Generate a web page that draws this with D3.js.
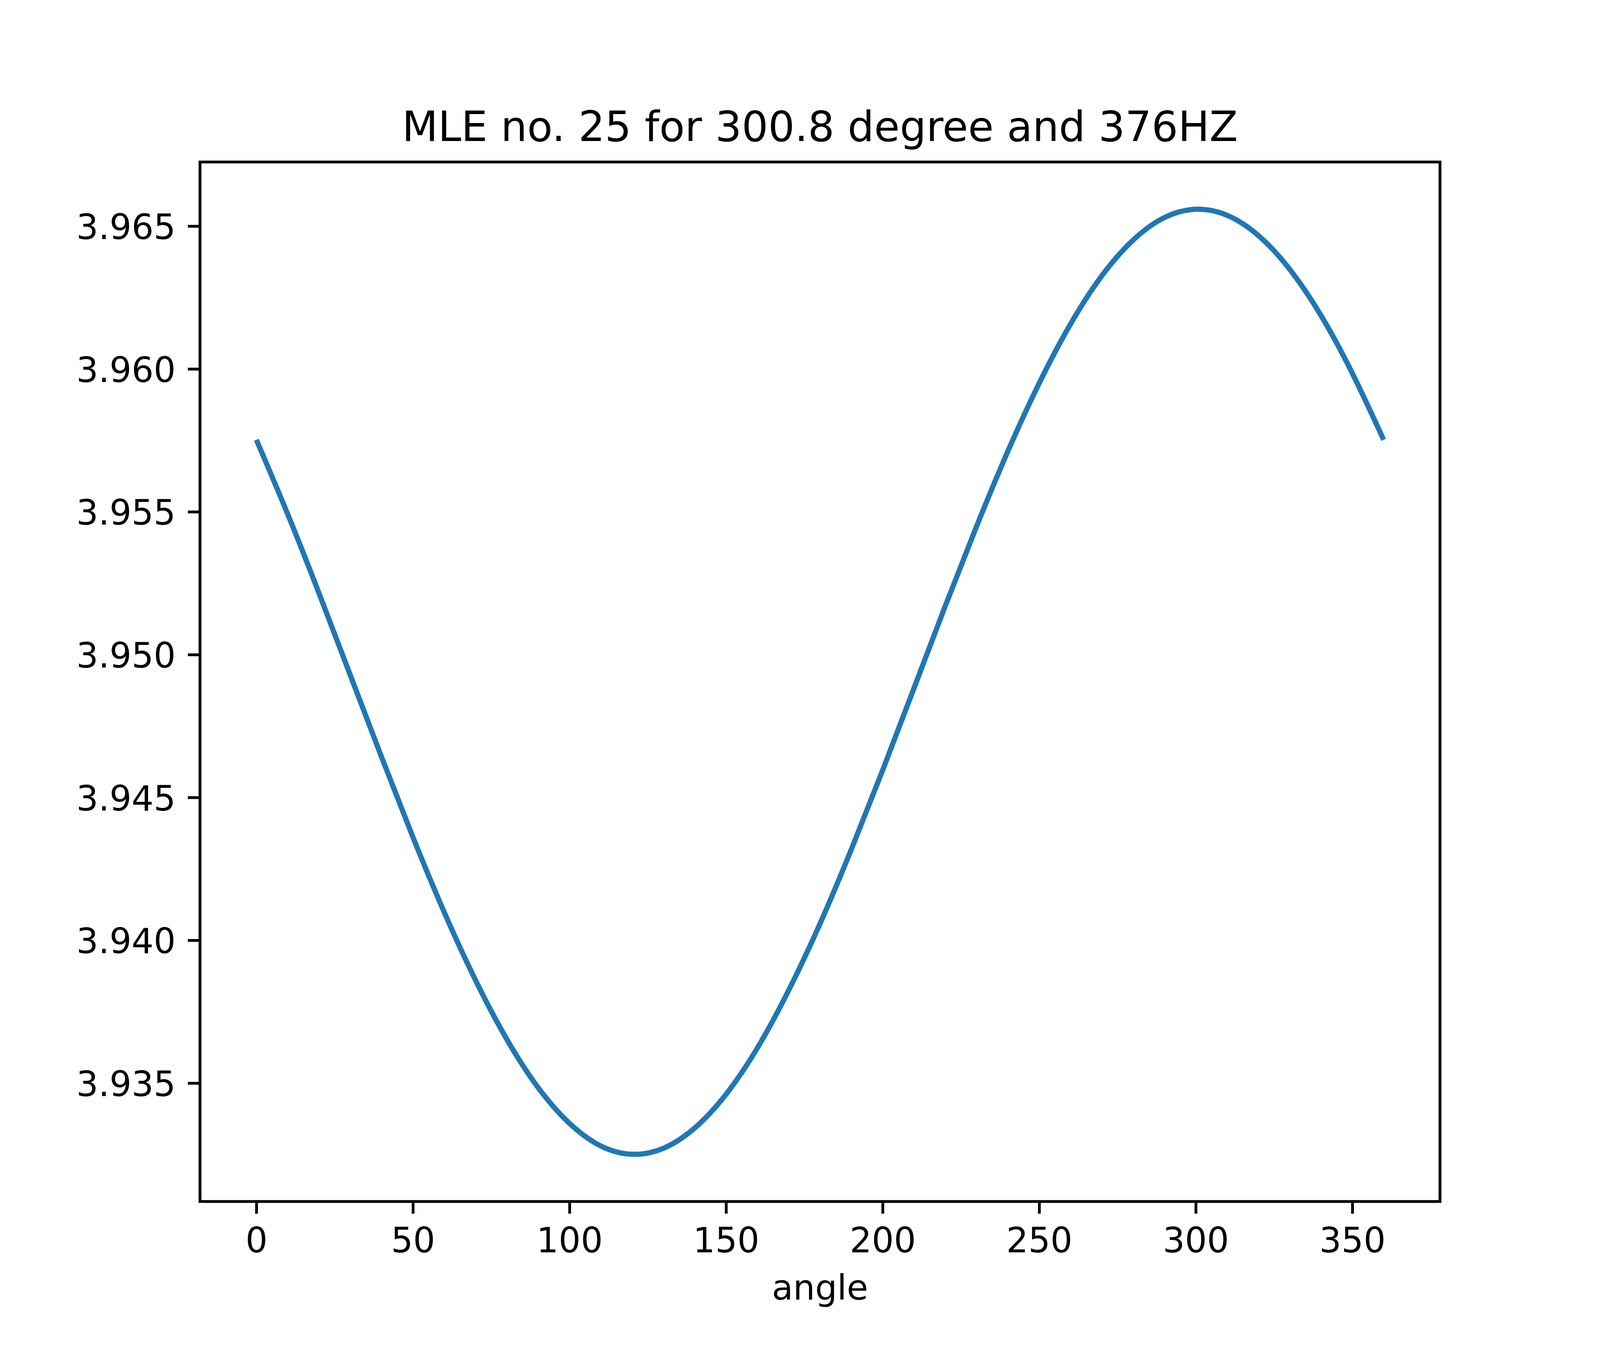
<!DOCTYPE html>
<html>
<head>
<meta charset="utf-8">
<script src="https://cdn.jsdelivr.net/npm/d3@7"></script>
<style>
  html, body { margin: 0; padding: 0; background: #fff; overflow: hidden; width: 100%; height: 100%; }
  svg { display: block; width: 100vw; height: 100vh; }
</style>
</head>
<body>
<script>
// ---- data ----
const angles = [0,10,20,30,40,50,60,70,80,90,100,110,120,130,140,150,160,170,180,
                190,200,210,220,230,240,250,260,270,280,290,300,310,320,330,340,350,360];
const mleValues = [3.95752,3.95492,3.95215,3.94928,3.94641,3.94361,3.94098,3.93860,3.93653,
                   3.93484,3.93359,3.93280,3.93251,3.93272,3.93343,3.93461,3.93623,3.93825,
                   3.94058,3.94318,3.94595,3.94882,3.95170,3.95449,3.95712,3.95950,3.96157,
                   3.96326,3.96451,3.96530,3.96559,3.96538,3.96467,3.96349,3.96187,3.95985,3.95752];
const xTicks = [0,50,100,150,200,250,300,350];
const yTicks = [3.935,3.940,3.945,3.950,3.955,3.960,3.965];
const titleText = "MLE no. 25 for 300.8 degree and 376HZ";
const xLabelText = "angle";

// ---- layout (matplotlib-style figure fractions, fitted to the viewport) ----
const vw = window.innerWidth || 4608, vh = window.innerHeight || 3456;
const W = 4608, H = W * vh / vw;
const mL = 0.125 * W, mR = 0.9 * W, mT = 0.12 * H, mB = 0.89 * H;
const font = "'DejaVu Sans', sans-serif";

const svg = d3.select("body").append("svg")
  .attr("viewBox", `0 0 ${W} ${H}`)
  .attr("preserveAspectRatio", "xMidYMid meet");
svg.append("rect").attr("width", W).attr("height", H).attr("fill", "#fff");

const data = angles.map((a, i) => ({a, v: mleValues[i]}));

const xExt = d3.extent(angles), xPad = (xExt[1]-xExt[0])*0.05;
const yExt = d3.extent(mleValues), yPad = (yExt[1]-yExt[0])*0.05;
const x = d3.scaleLinear().domain([xExt[0]-xPad, xExt[1]+xPad]).range([mL, mR]);
const y = d3.scaleLinear().domain([yExt[0]-yPad, yExt[1]+yPad]).range([mB, mT]);

// line
const line = d3.line().x(d => x(d.a)).y(d => y(d.v)).curve(d3.curveNatural);
svg.append("path").datum(data)
  .attr("d", line)
  .attr("fill", "none")
  .attr("stroke", "#1f77b4")
  .attr("stroke-width", 15)
  .attr("stroke-linecap", "butt")
  .attr("stroke-linejoin", "round");

// axes
const xAxis = d3.axisBottom(x).tickValues(xTicks).tickFormat(d3.format("d"))
  .tickSize(35).tickPadding(35);
const gx = svg.append("g").attr("transform", `translate(0,${mB})`).call(xAxis);
gx.select(".domain").remove();
gx.selectAll(".tick line").attr("stroke", "#000").attr("stroke-width", 8);
gx.selectAll(".tick text").attr("font-family", font).attr("font-size", 100)
  .attr("fill", "#000").attr("dy", null).attr("y", 147)
  .attr("dominant-baseline", "alphabetic");

const yAxis = d3.axisLeft(y).tickValues(yTicks).tickFormat(d3.format(".3f"))
  .tickSize(35).tickPadding(35);
const gy = svg.append("g").attr("transform", `translate(${mL},0)`).call(yAxis);
gy.select(".domain").remove();
gy.selectAll(".tick line").attr("stroke", "#000").attr("stroke-width", 8);
gy.selectAll(".tick text").attr("font-family", font).attr("font-size", 100)
  .attr("fill", "#000").attr("dy", 37).attr("dominant-baseline", "alphabetic");

// frame
svg.append("rect")
  .attr("x", mL).attr("y", mT)
  .attr("width", mR-mL).attr("height", mB-mT)
  .attr("fill", "none").attr("stroke", "#000").attr("stroke-width", 8)
  .attr("stroke-linejoin", "miter");

// title
svg.append("text")
  .attr("x", (mL+mR)/2).attr("y", mT - 60)
  .attr("text-anchor", "middle")
  .attr("font-family", font).attr("font-size", 120).attr("fill", "#000")
  .text(titleText);

// x label
svg.append("text")
  .attr("x", (mL+mR)/2).attr("y", mB + 283)
  .attr("text-anchor", "middle")
  .attr("font-family", font).attr("font-size", 100).attr("fill", "#000")
  .text(xLabelText);
</script>
</body>
</html>
